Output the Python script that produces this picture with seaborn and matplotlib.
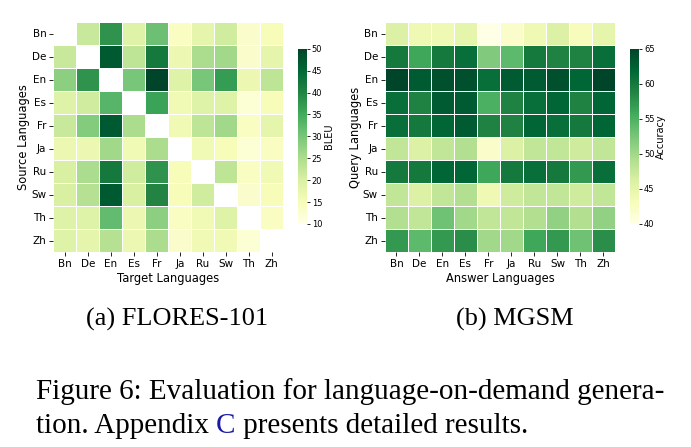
import matplotlib
matplotlib.use("Agg")
import matplotlib.pyplot as plt
import numpy as np
import pandas as pd
import seaborn as sns

langs = ["Bn", "De", "En", "Es", "Fr", "Ja", "Ru", "Sw", "Th", "Zh"]
nan = np.nan

# FLORES-101 BLEU, rows = source, cols = target
flores_bleu = [
    [nan, 22, 38, 19, 31, 14, 18, 21, 13, 15],
    [22, nan, 47, 23, 42, 17, 25, 26, 13, 18],
    [28, 38, nan, 30, 50, 19, 30, 37, 17, 23],
    [19, 21, 33, nan, 36, 16, 19, 19, 12, 15],
    [22, 29, 47, 25, nan, 16, 23, 26, 14, 18],
    [17, 17, 26, 16, 25, nan, 16, 15, 12, 14],
    [20, 25, 42, 21, 38, 15, nan, 23, 14, 16],
    [20, 24, 47, 20, 40, 15, 21, nan, 13, 15],
    [19, 19, 32, 17, 28, 14, 16, 19, nan, 14],
    [19, 18, 24, 17, 25, 13, 16, 16, 12, nan],
]

# MGSM accuracy, rows = query, cols = answer
mgsm_acc = [
    [46, 44, 44, 45, 40, 42, 44, 46, 43, 45],
    [60, 56, 60, 61, 52, 54, 60, 59, 59, 61],
    [65, 63, 64, 64, 61, 63, 63, 64, 62, 65],
    [61, 59, 63, 63, 55, 59, 61, 62, 59, 62],
    [61, 60, 62, 63, 59, 59, 62, 61, 60, 62],
    [48, 46, 48, 49, 42, 46, 48, 48, 47, 48],
    [60, 60, 62, 62, 56, 60, 61, 60, 57, 61],
    [48, 46, 48, 49, 44, 47, 48, 48, 47, 48],
    [49, 48, 53, 50, 48, 48, 49, 51, 49, 51],
    [57, 54, 57, 58, 50, 50, 56, 57, 53, 58],
]

panels = [
    (flores_bleu, "Target Languages", "Source Languages", "BLEU", 10, 50, "(a) FLORES-101"),
    (mgsm_acc, "Answer Languages", "Query Languages", "Accuracy", 40, 65, "(b) MGSM"),
]

fig = plt.figure(figsize=(6.91, 4.47), dpi=100)
plt.rcParams["font.family"] = "DejaVu Sans"

ax_left = [0.077, 0.557]
cbar_left = [0.431, 0.912]
cap_x = [0.256, 0.745]
serif = "Liberation Serif"

for i, (vals, xlab, ylab, cblab, vmin, vmax, cap) in enumerate(panels):
    df = pd.DataFrame(vals, index=langs, columns=langs)
    ax = fig.add_axes([ax_left[i], 0.436, 0.333, 0.5145])
    cax = fig.add_axes([cbar_left[i], 0.499, 0.013, 0.392])
    sns.heatmap(df, ax=ax, cbar_ax=cax, cmap="YlGn", vmin=vmin, vmax=vmax,
                linewidths=0.7, linecolor="white")
    ax.set_xlabel(xlab, fontsize=8.3, labelpad=2)
    ax.set_ylabel(ylab, fontsize=8.3, labelpad=0.5)
    ax.tick_params(axis="both", labelsize=7.5, length=3, width=0.6, pad=2)
    ax.tick_params(axis="y", rotation=0)
    cax.tick_params(labelsize=6, length=2, width=0.6, pad=1.5)
    cax.set_ylabel(cblab, fontsize=7, labelpad=1)
    for sp in cax.spines.values():
        sp.set_visible(False)
    fig.text(cap_x[i], 0.285, cap, ha="center", va="center",
             fontsize=18.9, family=serif)

fs = 21
fig.text(0.052, 0.125, "Figure 6: Evaluation for language-on-demand genera-",
         ha="left", va="center", fontsize=fs, family=serif)
t1 = fig.text(0.052, 0.048, "tion. Appendix ", ha="left", va="center",
              fontsize=fs, family=serif)
fig.canvas.draw()
renderer = fig.canvas.get_renderer()
bb = t1.get_window_extent(renderer=renderer)
t2 = fig.text(bb.x1 / fig.bbox.width, 0.048, "C", ha="left", va="center",
              color="#1a1aa6", fontsize=fs, family=serif)
bb2 = t2.get_window_extent(renderer=renderer)
fig.text(bb2.x1 / fig.bbox.width, 0.048, " presents detailed results.",
         ha="left", va="center", fontsize=fs, family=serif)

fig.savefig("out.png", dpi=100)
